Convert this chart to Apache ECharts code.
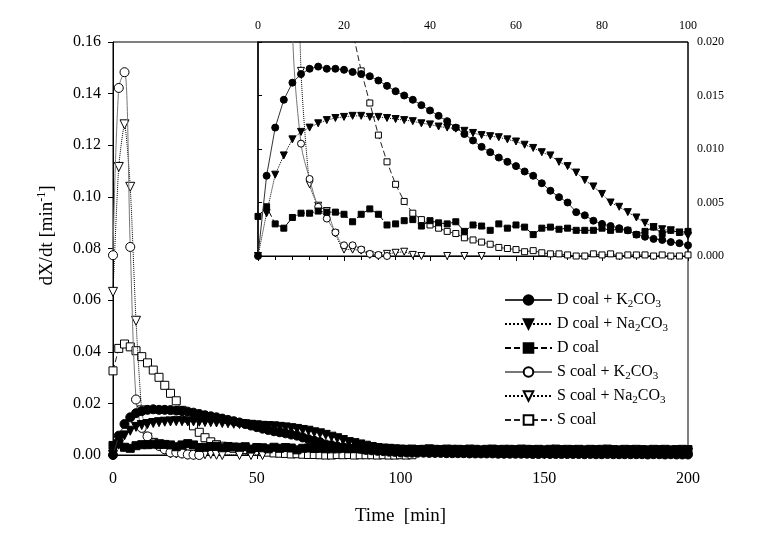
<!DOCTYPE html>
<html>
<head>
<meta charset="utf-8">
<script src="https://cdn.jsdelivr.net/npm/echarts@6.0.0/dist/echarts.min.js"></script>
<style>
html,body{margin:0;padding:0;background:#fff;}
#chart{width:760px;height:535px;}
</style>
</head>
<body>
<div id="chart"></div>
<script>
// time [min], sampled every 2 min
const time = [0,2,4,6,8,10,12,14,16,18,20,22,24,26,28,30,32,34,36,38,40,42,44,46,48,50,
  52,54,56,58,60,62,64,66,68,70,72,74,76,78,80,82,84,86,88,90,92,94,96,98,100,
  102,104,106,108,110,112,114,116,118,120,122,124,126,128,130,132,134,136,138,140,
  142,144,146,148,150,152,154,156,158,160,162,164,166,168,170,172,174,176,178,180,
  182,184,186,188,190,192,194,196,198,200];

const dK2CO3 = [0, 0.0075, 0.0120, 0.0146, 0.0162, 0.0170, 0.0175, 0.0177, 0.0175, 0.0175,
  0.0174, 0.0172, 0.0170, 0.0168, 0.0164, 0.0159, 0.0154, 0.0150, 0.0146, 0.0141,
  0.0136, 0.0131, 0.0126, 0.0120, 0.0114, 0.0108, 0.0102, 0.0097, 0.0092, 0.0088,
  0.0084, 0.0079, 0.0075, 0.0068, 0.0061, 0.0055, 0.0050, 0.0041, 0.0038, 0.0033,
  0.0030, 0.0028, 0.0026, 0.0024, 0.0020, 0.0018, 0.0016, 0.0015, 0.0013, 0.0012, 0.0010,
  0.0010, 0.0009, 0.0009, 0.0009, 0.0008, 0.0008, 0.0008, 0.0007, 0.0007, 0.0007,
  0.0007, 0.0006, 0.0006, 0.0006, 0.0006, 0.0006, 0.0005, 0.0005, 0.0005, 0.0005,
  0.0005, 0.0005, 0.0004, 0.0004, 0.0005, 0.0004, 0.0004, 0.0004, 0.0004, 0.0004,
  0.0004, 0.0003, 0.0004, 0.0003, 0.0003, 0.0004, 0.0003, 0.0003, 0.0003, 0.0003,
  0.0003, 0.0003, 0.0002, 0.0003, 0.0003, 0.0002, 0.0003, 0.0002, 0.0002, 0.0002];

const dNa2CO3 = [0, 0.0040, 0.0076, 0.0094, 0.0109, 0.0116, 0.0120, 0.0124, 0.0127, 0.0129,
  0.0130, 0.0131, 0.0131, 0.0130, 0.0130, 0.0129, 0.0128, 0.0127, 0.0126, 0.0124,
  0.0123, 0.0121, 0.0120, 0.0119, 0.0117, 0.0115, 0.0113, 0.0112, 0.0111, 0.0109,
  0.0107, 0.0104, 0.0101, 0.0097, 0.0094, 0.0088, 0.0084, 0.0078, 0.0071, 0.0065,
  0.0058, 0.0050, 0.0046, 0.0041, 0.0036, 0.0031, 0.0027, 0.0025, 0.0024, 0.0022, 0.0019,
  0.0018, 0.0018, 0.0017, 0.0017, 0.0016, 0.0016, 0.0016, 0.0015, 0.0015, 0.0015,
  0.0015, 0.0014, 0.0014, 0.0014, 0.0014, 0.0013, 0.0013, 0.0013, 0.0013, 0.0013,
  0.0012, 0.0012, 0.0012, 0.0012, 0.0012, 0.0012, 0.0011, 0.0011, 0.0011, 0.0011,
  0.0011, 0.0011, 0.0011, 0.0010, 0.0010, 0.0010, 0.0010, 0.0010, 0.0010, 0.0010,
  0.0010, 0.0009, 0.0009, 0.0009, 0.0009, 0.0009, 0.0009, 0.0009, 0.0009, 0.0009];

const dCoal = [0.0037, 0.0046, 0.0030, 0.0026, 0.0036, 0.0040, 0.0040, 0.0042, 0.0041, 0.0041,
  0.0039, 0.0032, 0.0039, 0.0044, 0.0039, 0.0029, 0.0030, 0.0033, 0.0034, 0.0028,
  0.0033, 0.0031, 0.0030, 0.0032, 0.0023, 0.0029, 0.0028, 0.0024, 0.0030, 0.0026,
  0.0029, 0.0027, 0.0020, 0.0026, 0.0027, 0.0025, 0.0026, 0.0024, 0.0024, 0.0024,
  0.0026, 0.0024, 0.0025, 0.0024, 0.0020, 0.0023, 0.0027, 0.0021, 0.0024, 0.0022, 0.0023,
  0.0022, 0.0023, 0.0021, 0.0022, 0.0024, 0.0022, 0.0021, 0.0023, 0.0022, 0.0022,
  0.0021, 0.0023, 0.0022, 0.0020, 0.0022, 0.0023, 0.0021, 0.0022, 0.0022, 0.0021,
  0.0023, 0.0022, 0.0021, 0.0022, 0.0020, 0.0022, 0.0023, 0.0021, 0.0022, 0.0021,
  0.0022, 0.0020, 0.0022, 0.0021, 0.0022, 0.0023, 0.0021, 0.0020, 0.0022, 0.0021,
  0.0022, 0.0021, 0.0020, 0.0022, 0.0021, 0.0022, 0.0020, 0.0021, 0.0022, 0.0021];

const sK2CO3 = [0.0774, 0.1422, 0.1483, 0.0806, 0.0215, 0.0105, 0.0072, 0.0046, 0.0035, 0.0022,
  0.0010, 0.0010, 0.0006, 0.0002, 0.0001, 0.0000];

const sNa2CO3 = [0.0632, 0.1116, 0.1281, 0.1039, 0.0520, 0.0173, 0.0067, 0.0047, 0.0042, 0.0021,
  0.0006, 0.0006, 0.0005, 0.0001, 0.0000, 0.0002, 0.0003, 0.0004, 0.0001, 0.0000,
  null, null, 0.0000, null, 0.0000, null, 0.0000];

const sCoal = [0.0326, 0.0413, 0.0430, 0.0419, 0.0404, 0.0381, 0.0357, 0.0329, 0.0301, 0.0270,
  0.0239, 0.0210, 0.0173, 0.0143, 0.0113, 0.0088, 0.0067, 0.0051, 0.0040, 0.0034,
  0.0029, 0.0026, 0.0023, 0.0021, 0.0017, 0.0015, 0.0013, 0.0011, 0.0008, 0.0007,
  0.0006, 0.0004, 0.0005, 0.0003, 0.0002, 0.0002, 0.0001, 0.0000, 0.0000, 0.0002,
  0.0001, 0.0002, 0.0000, 0.0001, 0.0001, 0.0001, 0.0000, 0.0001, 0.0000, 0.0000,
  0.0001, 0.0000, 0.0001];

const seriesNames = ['D coal + K2CO3', 'D coal + Na2CO3', 'D coal', 'S coal + K2CO3', 'S coal + Na2CO3', 'S coal'];
const mainXTicks = [0, 50, 100, 150, 200];
const mainYTicks = [0, 0.02, 0.04, 0.06, 0.08, 0.10, 0.12, 0.14, 0.16];
const insetXTicks = [0, 20, 40, 60, 80, 100];
const insetYTicks = [0, 0.005, 0.010, 0.015, 0.020];

const FONT = 'Liberation Serif, Times New Roman, serif';

function pairs(vals) {
  const out = [];
  for (let i = 0; i < vals.length; i++) out.push([time[i], vals[i]]);
  return out;
}

const styles = [
  { data: dK2CO3, symbol: 'circle', rot: 0, fill: '#000', line: '#333', type: 'solid' },
  { data: dNa2CO3, symbol: 'triangle', rot: 180, fill: '#000', line: '#000', type: 'dotted' },
  { data: dCoal, symbol: 'rect', rot: 0, fill: '#000', line: '#000', type: [6, 3] },
  { data: sK2CO3, symbol: 'circle', rot: 0, fill: '#fff', line: '#777', type: 'solid', smooth: 0.35 },
  { data: sNa2CO3, symbol: 'triangle', rot: 180, fill: '#fff', line: '#000', type: 'dotted', smooth: 0.2 },
  { data: sCoal, symbol: 'rect', rot: 0, fill: '#fff', line: '#222', type: [6, 3] }
];

const series = [];
styles.forEach((s, k) => {
  [0, 1].forEach(g => {
    series.push({
      name: seriesNames[k],
      type: 'line',
      xAxisIndex: g,
      yAxisIndex: g,
      data: pairs(s.data),
      symbol: s.symbol,
      symbolRotate: s.rot,
      symbolSize: g === 0 ? (s.symbol === 'rect' ? 8 : 9) : (s.symbol === 'rect' ? 6 : 7),
      smooth: s.smooth || false,
      connectNulls: true,
      clip: true,
      animation: false,
      showAllSymbol: true,
      lineStyle: { color: s.line, width: 1, type: s.type },
      itemStyle: { color: s.fill, borderColor: '#000', borderWidth: 1, opacity: 1 },
      emphasis: { disabled: true },
      z: 3 + (5 - k)
    });
  });
});

const chart = echarts.init(document.getElementById('chart'), null, { renderer: 'canvas' });
chart.setOption({
  backgroundColor: '#fff',
  animation: false,
  grid: [
    { left: 113, right: 72, top: 42, bottom: 80, show: true, borderColor: '#000', borderWidth: 1, backgroundColor: 'transparent' },
    { left: 258, right: 72, top: 42, height: 214, show: true, borderColor: '#000', borderWidth: 1, backgroundColor: 'transparent' }
  ],
  legend: {
    orient: 'vertical',
    left: 499,
    top: 285,
    itemWidth: 47,
    itemHeight: 12,
    itemGap: 4,
    data: seriesNames,
    selectedMode: false,
    formatter: function (n) {
      return n.replace('K2CO3', 'K{s|2}CO{s|3}').replace('Na2CO3', 'Na{s|2}CO{s|3}');
    },
    textStyle: {
      fontFamily: FONT, fontSize: 16, color: '#000', lineHeight: 20,
      rich: { s: { fontFamily: FONT, fontSize: 11, color: '#000', lineHeight: 20, verticalAlign: 'bottom' } }
    }
  },
  xAxis: [
    {
      type: 'value', gridIndex: 0, min: mainXTicks[0], max: mainXTicks[mainXTicks.length - 1], interval: 50,
      name: 'Time  [min]', nameLocation: 'middle', nameGap: 52,
      nameTextStyle: { fontFamily: FONT, fontSize: 19, color: '#000' },
      axisLine: { lineStyle: { color: '#000', width: 1 } },
      axisTick: { show: true, inside: false, length: 4, lineStyle: { color: '#000' } },
      axisLabel: { fontFamily: FONT, fontSize: 16, color: '#000', margin: 16 },
      splitLine: { show: false }
    },
    {
      type: 'value', gridIndex: 1, position: 'top', min: insetXTicks[0], max: insetXTicks[insetXTicks.length - 1], interval: 20,
      axisLine: { lineStyle: { color: '#000', width: 1 } },
      axisTick: { show: true, inside: true, length: 5, lineStyle: { color: '#000' } },
      minorTick: { show: true, splitNumber: 5, length: 4, lineStyle: { color: '#000' } },
      axisLabel: { fontFamily: FONT, fontSize: 12, color: '#000', margin: 10 },
      splitLine: { show: false }
    }
  ],
  yAxis: [
    {
      type: 'value', gridIndex: 0, min: mainYTicks[0], max: mainYTicks[mainYTicks.length - 1], interval: 0.02,
      name: 'dX/dt [min{sup|-1}]', nameLocation: 'middle', nameGap: 55,
      nameTextStyle: {
        fontFamily: FONT, fontSize: 19, color: '#000', padding: [0, 0, 0, 26],
        rich: { sup: { fontFamily: FONT, fontSize: 12, color: '#000', verticalAlign: 'top', lineHeight: 22 } }
      },
      axisLine: { lineStyle: { color: '#000', width: 1 } },
      axisTick: { show: true, inside: false, length: 5, lineStyle: { color: '#000' } },
      axisLabel: { fontFamily: FONT, fontSize: 16, color: '#000', margin: 12, formatter: v => v.toFixed(2) },
      splitLine: { show: false }
    },
    {
      type: 'value', gridIndex: 1, position: 'right', min: insetYTicks[0], max: insetYTicks[insetYTicks.length - 1], interval: 0.005,
      axisLine: { lineStyle: { color: '#000', width: 1.5 } },
      axisTick: { show: true, inside: false, length: 4, lineStyle: { color: '#000' } },
      axisLabel: { fontFamily: FONT, fontSize: 12, color: '#000', margin: 9, formatter: v => v.toFixed(3) },
      splitLine: { show: false }
    }
  ],
  series: series
});
</script>
</body>
</html>
